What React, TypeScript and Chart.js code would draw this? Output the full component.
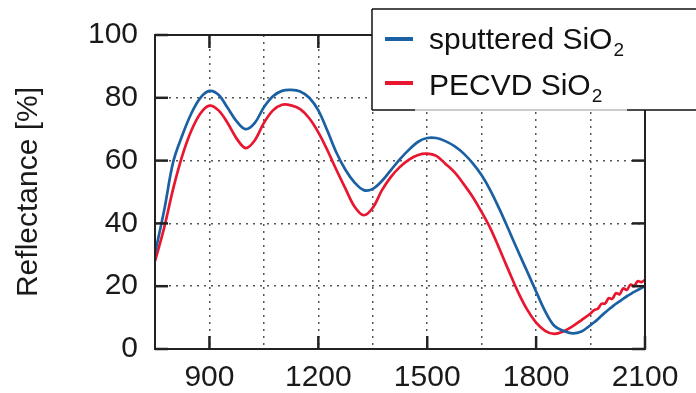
import React, { useEffect, useRef } from "react";
import { Chart, registerables } from "chart.js";

Chart.register(...registerables);

// Wavelength (nm)
const wavelengths = [
  750, 775, 800, 825, 850, 875, 900, 925, 950, 975,
  1000, 1025, 1050, 1075, 1100, 1125, 1150, 1175, 1200, 1225,
  1250, 1275, 1300, 1325, 1350, 1375, 1400, 1425, 1450, 1475,
  1500, 1525, 1550, 1575, 1600, 1625, 1650, 1675, 1700, 1725,
  1750, 1775, 1800, 1825, 1850, 1875, 1900, 1925, 1950,
  1960, 1970, 1980, 1990, 2000, 2010, 2020, 2030, 2040, 2050,
  2060, 2070, 2080, 2090, 2100,
];

// Reflectance (%) – sputtered SiO2
const sputteredValues = [
  30.5, 44, 59.5, 68, 75, 80, 82.2, 81, 76.8, 72.5,
  70, 72, 77, 80.5, 82.2, 82.5, 82, 80, 76, 69.5,
  62.5, 57, 53, 50.6, 51, 53.5, 57, 60.5, 63.5, 66,
  67.2, 67.2, 66.2, 64.6, 62.3, 59.2, 55.3, 50.3, 44.3, 37.8,
  31.2, 24.8, 18.3, 12, 7.4, 5.8, 5, 5.6, 7.6,
  8.5, 9.5, 10.6, 11.6, 12.6, 13.5, 14.4, 15.2, 16, 16.8,
  17.5, 18.2, 18.8, 19.4, 20,
];

// Reflectance (%) – PECVD SiO2
const pecvdValues = [
  28, 38.5, 51, 61.5, 69.5, 75, 77.5, 76, 72, 67,
  64, 66.5, 72, 76, 77.8, 77.6, 76.4, 73.5, 69, 63.3,
  57, 51, 45.3, 42.6, 45, 50.5, 54.8, 58, 60.3, 61.8,
  62.2, 61.5, 59, 56.3, 52.6, 48.5, 43.6, 38.2, 31.6, 24.8,
  18.2, 12.6, 8.4, 5.8, 4.8, 5.6, 7.2, 9.2, 11.3,
  12.4, 12.8, 14.4, 14.5, 16.2, 16.0, 17.8, 17.4, 19.3, 18.8,
  20.5, 20.0, 21.6, 21.3, 22,
];

const xLabeled = [900, 1200, 1500, 1800, 2100];
const yLabeled = [0, 20, 40, 60, 80, 100];
const seriesNames = ["sputtered SiO", "PECVD SiO"];
const subscript = "2";
const yTitle = "Reflectance [%]";

const BLUE = "#1b60a2";
const RED = "#e8172f";
const FONT = '"Liberation Sans", Arial, sans-serif';

const framePlugin = {
  id: "frameAndLegend",
  afterDatasetsDraw(chart: any) {
    const { ctx, chartArea, scales } = chart;
    const { left, right, top, bottom } = chartArea;
    const x = scales.x;
    const y = scales.y;
    ctx.save();
    ctx.strokeStyle = "#222";
    ctx.lineWidth = 2;
    ctx.strokeRect(left, top, right - left, bottom - top);
    ctx.lineWidth = 2.5;
    const seg = (x1: number, y1: number, x2: number, y2: number) => {
      ctx.beginPath();
      ctx.moveTo(x1, y1);
      ctx.lineTo(x2, y2);
      ctx.stroke();
    };
    xLabeled.forEach((v) => {
      const px = x.getPixelForValue(v);
      seg(px, bottom, px, bottom - 13);
      seg(px, top, px, top + 13);
    });
    yLabeled.forEach((v) => {
      const py = y.getPixelForValue(v);
      seg(left, py, left + 13, py);
      seg(right, py, right - 13, py);
    });

    // legend box
    const bx = 372;
    const by = 9;
    const bw = 340;
    const bh = 101;
    ctx.fillStyle = "#fff";
    ctx.fillRect(bx, by, bw, bh);
    ctx.strokeStyle = "#111";
    ctx.lineWidth = 1.5;
    seg(bx, by, bx + bw, by);
    seg(bx, by, bx, by + bh);
    seg(bx, by + bh, 415, by + bh);
    seg(627, by + bh, bx + bw, by + bh);
    ctx.strokeStyle = "#999";
    ctx.lineWidth = 1;
    seg(415, by + bh, 627, by + bh);

    const colors = [BLUE, RED];
    const lineYs = [39, 83];
    const baselines = [49, 95];
    colors.forEach((c, i) => {
      ctx.strokeStyle = c;
      ctx.lineWidth = 4;
      seg(385, lineYs[i], 413, lineYs[i]);
      ctx.fillStyle = "#111";
      ctx.textAlign = "left";
      ctx.textBaseline = "alphabetic";
      ctx.font = `30px ${FONT}`;
      ctx.fillText(seriesNames[i], 429, baselines[i]);
      const w = ctx.measureText(seriesNames[i]).width;
      ctx.font = `19px ${FONT}`;
      ctx.fillText(subscript, 429 + w + 1, baselines[i] + 7);
    });
    ctx.restore();
  },
};

export default function App() {
  const ref = useRef<HTMLCanvasElement | null>(null);

  useEffect(() => {
    if (!ref.current) return;
    const toPts = (vals: number[]) => vals.map((v, i) => ({ x: wavelengths[i], y: v }));
    const chart = new Chart(ref.current, {
      type: "line",
      data: {
        datasets: [
          {
            label: seriesNames[0] + subscript,
            data: toPts(sputteredValues),
            borderColor: BLUE,
            borderWidth: 2.7,
            pointRadius: 0,
            tension: 0.35,
            fill: false,
          },
          {
            label: seriesNames[1] + subscript,
            data: toPts(pecvdValues),
            borderColor: RED,
            borderWidth: 2.7,
            pointRadius: 0,
            tension: 0.35,
            fill: false,
          },
        ],
      },
      options: {
        animation: false,
        responsive: false,
        devicePixelRatio: 1,
        layout: { padding: { top: 32, right: 51, left: 0, bottom: 0 } },
        plugins: {
          legend: { display: false },
          tooltip: { enabled: false },
        },
        scales: {
          x: {
            type: "linear",
            min: 750,
            max: 2100,
            border: { display: false, dash: [2, 5] },
            grid: {
              color: "#555",
              lineWidth: 1.5,
              drawTicks: false,
            },
            ticks: {
              stepSize: 150,
              autoSkip: false,
              maxRotation: 0,
              padding: 11,
              color: "#1a1a1a",
              font: { family: FONT, size: 30 },
              callback: (v: any) => (xLabeled.includes(Number(v)) ? String(v) : ""),
            },
            afterFit: (s: any) => {
              s.height = 44;
            },
          },
          y: {
            min: 0,
            max: 100,
            border: { display: false, dash: [2, 5] },
            grid: {
              color: "#555",
              lineWidth: 1.5,
              drawTicks: false,
            },
            ticks: {
              stepSize: 20,
              padding: 17,
              color: "#1a1a1a",
              font: { family: FONT, size: 30 },
            },
            title: {
              display: true,
              text: yTitle,
              color: "#1a1a1a",
              font: { family: FONT, size: 30 },
              padding: { top: 11, bottom: 0 },
            },
            afterFit: (s: any) => {
              s.width = 155;
            },
          },
        },
      },
      plugins: [framePlugin],
    } as any);
    return () => chart.destroy();
  }, []);

  return (
    <div style={{ position: "fixed", left: 0, top: 0, width: 696, height: 393, background: "#fff" }}>
      <canvas ref={ref} width={696} height={393} style={{ width: 696, height: 393, display: "block" }} />
    </div>
  );
}
